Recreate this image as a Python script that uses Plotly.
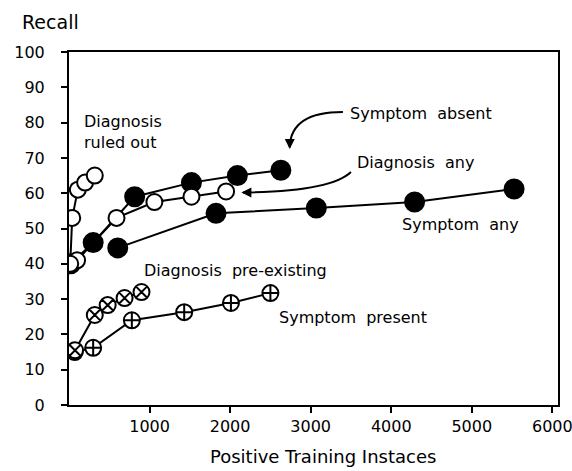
import plotly.graph_objects as go

# ---- data ----
ruled_out_x = [15, 40, 110, 200, 320]
ruled_out_y = [40, 53, 61, 63, 65]

symptom_absent_x = [20, 300, 815, 1520, 2090, 2630]
symptom_absent_y = [40, 46, 59, 63, 65, 66.5]

diagnosis_any_x = [100, 590, 1060, 1520, 1950]
diagnosis_any_y = [41, 53, 57.5, 59, 60.5]

symptom_any_x = [605, 1825, 3070, 4290, 5525]
symptom_any_y = [44.5, 54.3, 55.8, 57.5, 61.2]

pre_existing_x = [75, 320, 480, 690, 900]
pre_existing_y = [15.5, 25.5, 28.3, 30.3, 32]

symptom_present_x = [70, 300, 780, 1430, 2010, 2500]
symptom_present_y = [15, 16.2, 24, 26.3, 28.9, 31.7]

x_ticks = [1000, 2000, 3000, 4000, 5000, 6000]
y_ticks = [0, 10, 20, 30, 40, 50, 60, 70, 80, 90, 100]

FONT = "DejaVu Sans, sans-serif"
fig = go.Figure()

def add(xs, ys, symbol, size, fill, name):
    fig.add_trace(go.Scatter(
        x=xs, y=ys, mode="lines+markers", name=name,
        line=dict(color="black", width=2),
        marker=dict(symbol=symbol, size=size, color=fill,
                    line=dict(color="black", width=2)),
        showlegend=False, hoverinfo="skip"))

add(symptom_any_x, symptom_any_y, "circle", 19, "black", "Symptom any")
add(symptom_absent_x, symptom_absent_y, "circle", 19, "black", "Symptom absent")
add(symptom_present_x, symptom_present_y, "circle-cross", 16, "white", "Symptom present")
add(pre_existing_x, pre_existing_y, "circle-x", 16, "white", "Diagnosis pre-existing")
add(diagnosis_any_x, diagnosis_any_y, "circle", 16, "white", "Diagnosis any")
add(ruled_out_x, ruled_out_y, "circle", 16, "white", "Diagnosis ruled out")

labels = [
    (160, 77.3, "Diagnosis<br>ruled out"),
    (3466, 82.7, "Symptom  absent"),
    (3552, 68.8, "Diagnosis  any"),
    (4108, 51, "Symptom  any"),
    (900, 38.2, "Diagnosis  pre-existing"),
    (2577, 24.9, "Symptom  present"),
]
for x, y, t in labels:
    fig.add_annotation(x=x, y=y, text=t, showarrow=False, xanchor="left",
                       yanchor="middle", align="left",
                       font=dict(family=FONT, size=16, color="black"))

# curved leader lines
fig.add_shape(type="path", xref="x", yref="y",
              path="M 3400,83 Q 2750,83 2740,73",
              line=dict(color="black", width=2))
fig.add_shape(type="path", xref="x", yref="y",
              path="M 3500,66 Q 3250,60.5 2160,60.2",
              line=dict(color="black", width=2))
# arrow heads
fig.add_annotation(x=2740, y=72.5, ax=0, ay=-10, text="", showarrow=True,
                   arrowhead=2, arrowsize=1, arrowwidth=2, arrowcolor="black")
fig.add_annotation(x=2140, y=60.2, ax=10, ay=0, text="", showarrow=True,
                   arrowhead=2, arrowsize=1, arrowwidth=2, arrowcolor="black")

fig.add_annotation(x=-0.1, y=1.085, xref="paper", yref="paper", text="Recall",
                   showarrow=False, xanchor="left", yanchor="middle",
                   font=dict(family=FONT, size=19, color="black"))
fig.add_annotation(x=0.52, y=-0.147, xref="paper", yref="paper",
                   text="Positive Training Instaces", showarrow=False,
                   xanchor="center", yanchor="middle",
                   font=dict(family=FONT, size=18, color="black"))

fig.update_xaxes(range=[0, 6070], tickvals=x_ticks, ticks="outside", ticklen=6,
                 tickwidth=2, tickcolor="black", showline=True, linecolor="black",
                 linewidth=2, mirror=True, showgrid=False, zeroline=False,
                 ticklabeloverflow="allow", automargin=False,
                 tickfont=dict(family=FONT, size=16, color="black"))
fig.update_yaxes(range=[0, 100], tickvals=y_ticks, ticks="outside", ticklen=6,
                 tickwidth=2, tickcolor="black", showline=True, linecolor="black",
                 linewidth=2, mirror=True, showgrid=False, zeroline=False,
                 ticklabelstandoff=13, automargin=False,
                 tickfont=dict(family=FONT, size=16, color="black"))

fig.update_layout(width=572, height=471,
                  margin=dict(l=69, r=14, t=52, b=66, autoexpand=False),
                  paper_bgcolor="white", plot_bgcolor="white",
                  hovermode=False)
fig.write_html("out.html", config={"displayModeBar": False},
               post_script="document.body.style.margin='0px';")
